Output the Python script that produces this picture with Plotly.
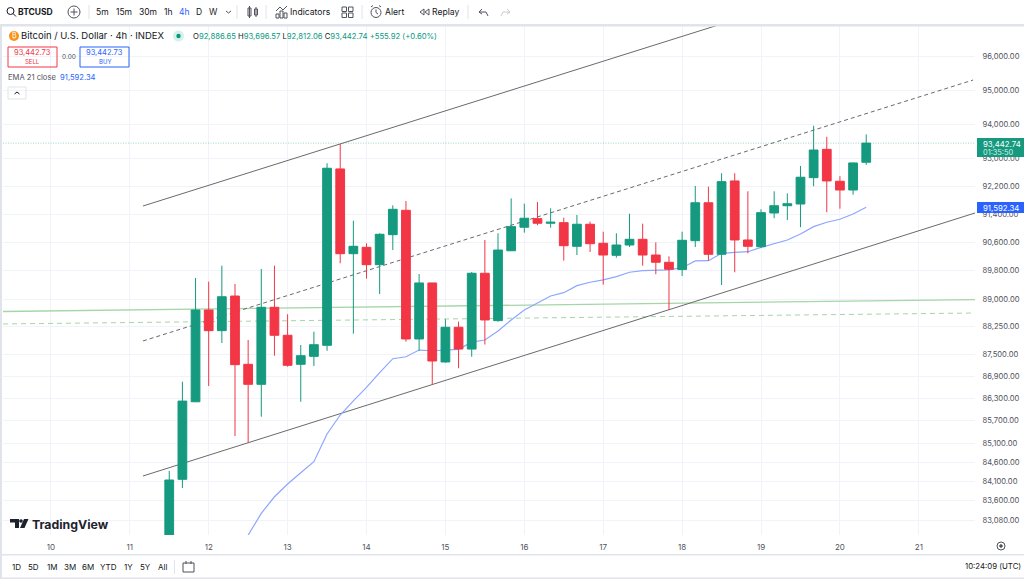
import plotly.graph_objects as go
import pandas as pd
import numpy as np

# 4h candles, prices
candle_start = "2024-11-11 12:00"
open_px = [82400, 84153, 86210, 88710, 88141, 89097, 87222, 86680, 88784, 88014, 87222, 87439, 87739, 92694,
           90279, 90459, 89971, 90816, 91508, 87913, 89460, 87285, 88234, 87637, 89731, 88416, 90362, 91026,
           91270, 91139, 91156, 90487, 91111, 90572, 90234, 90524, 90685, 90242, 90038, 89834, 90646, 91723,
           90262, 92348, 90666, 90476, 91431, 91638, 91687, 92443, 93262, 92339, 92088, 92886.65]
high_px = [84371, 86751, 89600, 89496, 89943, 89432, 87885, 89851, 89943, 88592, 87747, 88113, 92858, 93418,
           91213, 90572, 90856, 91650, 91772, 89711, 89460, 88454, 88388, 89767, 90666, 90856, 91848, 91695,
           91743, 91565, 91298, 91375, 91185, 90899, 90856, 91411, 91128, 90600, 90206, 90899, 92204, 92184,
           92570, 92570, 92051, 91536, 92051, 91993, 92781, 93950, 93626, 92484, 92876, 93696.57]
low_px = [82200, 83925, 86200, 86634, 87802, 85295, 85117, 85810, 87456, 87157, 86210, 87176, 87591, 90010,
          88058, 89580, 89153, 90382, 87839, 87591, 86662, 87266, 87114, 87428, 87761, 88388, 90354, 90873,
          91082, 91014, 90083, 90242, 90326, 89412, 90167, 90467, 89943, 89704, 88710, 89655, 90467, 90083,
          89404, 89759, 90290, 90439, 91281, 91233, 91026, 92195, 91451, 91553, 91954, 92812.06]
close_px = [84135, 86228, 88710, 88141, 89077, 87212, 86680, 88784, 88014, 87195, 87456, 87756, 92714, 90279,
            90487, 89971, 90827, 91536, 87913, 89460, 87312, 88234, 87637, 89731, 88435, 90382, 91043, 91281,
            91139, 91168, 90504, 91111, 90561, 90242, 90524, 90685, 90242, 90038, 89843, 90657, 91723, 90262,
            92328, 90666, 90487, 91440, 91638, 91695, 92455, 93242, 92348, 92088, 92867, 93442.74]

# EMA 21 comes into view at the 7th visible candle
ema_start = "2024-11-12 12:00"
ema_vals = [82706, 83266, 83697, 84030, 84326, 84615, 85349, 85855, 86236, 86599, 86995, 87374, 87428, 87610,
            87591, 87610, 87629, 87827, 87885, 88133, 88435, 88710, 88894, 89097, 89189, 89385, 89480, 89544,
            89636, 89759, 89804, 89823, 89823, 89887, 90075, 90083, 90290, 90318, 90335, 90459, 90572, 90666,
            90836, 91043, 91168, 91253, 91403, 91592.34]

# drawn lines on the chart
channel_upper_x, channel_upper_y = ["2024-11-11 04:00", "2024-11-18 11:00"], [91630, 96944]
channel_mid_x, channel_mid_y = ["2024-11-11 04:00", "2024-11-21 16:30"], [87858, 95297]
channel_low_x, channel_low_y = ["2024-11-11 04:00", "2024-11-21 17:05"], [84240, 91431]
view_x = ["2024-11-09 09:26", "2024-11-21 17:05"]
view_y = [82706, 96914]
green_solid = [88669, 88999]
green_dash = [88325, 88627]
last_price = 93442.74

price_ticks = [96000, 95000, 94000, 93000, 92200, 91400, 90600, 89800, 89000, 88250, 87500, 86900, 86300, 85700,
               85100, 84600, 84100, 83600, 83080]
day_ticks = list(range(10, 22))
intervals = ["5m", "15m", "30m", "1h", "4h", "D", "W"]
ranges = ["1D", "5D", "1M", "3M", "6M", "YTD", "1Y", "5Y", "All"]

W, H = 1024, 579
L, R, T, B = 3, 975, 26, 535
FONT = "Inter"
TEXT = "#131722"
MUTED = "#50535e"
GREEN = "#089981"
RED = "#f23645"
BLUE = "#2962ff"
BAND = "#e0e3eb"


def px(x, y):
    return (x - L) / (R - L), (B - y) / (B - T)


def path_of(points, close=False):
    parts = []
    for i, (x, y) in enumerate(points):
        a, b = px(x, y)
        parts.append(f"{'M' if i == 0 else 'L'}{a:.5f},{b:.5f}")
    return " ".join(parts) + (" Z" if close else "")


annotations = []
shapes = []


def note(x, y, text, size=9.5, color=TEXT, anchor="left"):
    a, b = px(x, y)
    annotations.append(dict(x=a, y=b, xref="paper", yref="paper", text=text, showarrow=False, xanchor=anchor,
                            yanchor="middle", font=dict(size=size, color=color, family=FONT),
                            borderpad=0, borderwidth=0))


def poly(points, color=MUTED, width=1, fill=None, close=False):
    shapes.append(dict(type="path", xref="paper", yref="paper", path=path_of(points, close or fill is not None),
                       line=dict(color=color, width=width), fillcolor=fill, layer="above"))


def box(x0, y0, x1, y1, color=MUTED, width=1, fill=None):
    a0, b0 = px(x0, y0)
    a1, b1 = px(x1, y1)
    shapes.append(dict(type="rect", xref="paper", yref="paper", x0=a0, y0=b0, x1=a1, y1=b1,
                       line=dict(color=color, width=width), fillcolor=fill, layer="above"))


def circle(x, y, r, color=MUTED, width=1, fill=None):
    a0, b0 = px(x - r, y + r)
    a1, b1 = px(x + r, y - r)
    shapes.append(dict(type="circle", xref="paper", yref="paper", x0=a0, y0=b0, x1=a1, y1=b1,
                       line=dict(color=color, width=width), fillcolor=fill, layer="above"))


# frame bands
box(0, 24, W, 26.5, color=BAND, width=0, fill=BAND)
box(0, 554, W, 555.5, color=BAND, width=0, fill=BAND)
box(0, 577.5, W, 579, color=BAND, width=0, fill=BAND)
box(0, 24, 2, 579, color=BAND, width=0, fill=BAND)

# top toolbar
circle(10.5, 11, 3.5, color=TEXT)
poly([(13, 13.5), (16, 16.5)], color=TEXT)
note(18, 12, "<b>BTCUSD</b>", size=8.5)
circle(74, 12, 6)
poly([(74, 8.5), (74, 15.5)])
poly([(70.5, 12), (77.5, 12)])
for sep in [89, 237, 266, 362, 468]:
    poly([(sep, 5), (sep, 19)], color=BAND)
for label, cx in zip(intervals, [102, 124, 148, 168, 184, 199, 213]):
    note(cx, 12, label, size=8.5, color=BLUE if label == "4h" else TEXT, anchor="center")
poly([(226, 11), (228.5, 13), (231, 11)])
box(248, 8, 251, 16)
poly([(249.5, 6), (249.5, 18)])
box(254.5, 9, 257.5, 15)
poly([(256, 7), (256, 17)])
poly([(276, 11), (280, 7), (283, 10), (287, 6)])
for bx, top in [(276, 14), (280, 11), (284, 13)]:
    box(bx, top, bx + 3, 18)
note(290, 12, "Indicators", size=8.6)
for gx, gy in [(342, 7), (348.5, 7), (342, 13), (348.5, 13)]:
    box(gx, gy, gx + 4.5, gy + 4.5)
circle(376, 12.5, 5)
poly([(371, 7), (373, 5.5)])
poly([(381, 7), (379, 5.5)])
poly([(376, 9.5), (376, 12.5), (378, 14)])
note(385, 12, "Alert", size=8.6)
poly([(424, 9), (420, 12), (424, 15)], close=True)
poly([(429, 9), (425, 12), (429, 15)], close=True)
note(432, 12, "Replay", size=8.6)
poly([(482, 9), (479, 12), (482, 14)])
poly([(479, 12), (486, 12), (488, 16)])
poly([(507, 9), (510, 12), (507, 14)], color="#c9cbd1")
poly([(510, 12), (503, 12), (501, 16)], color="#c9cbd1")

# legend block
circle(14, 36, 5, color="#f7931a", width=0, fill="#f7931a")
note(14, 36, "₿", size=7, color="#ffffff", anchor="center")
note(21, 36, "Bitcoin / U.S. Dollar · 4h · INDEX", size=9.5)
circle(178.5, 36, 5.5, color="#d6f0ea", width=0, fill="#d6f0ea")
circle(178.5, 36, 2.2, color=GREEN, width=0, fill=GREEN)


def ohlc_text(letter, value):
    return f"{letter}<span style='color:{GREEN}'>{value}</span>"


note(193, 36.5, " ".join([ohlc_text("O", f"{open_px[-1]:,.2f}"), ohlc_text("H", f"{high_px[-1]:,.2f}"),
                          ohlc_text("L", f"{low_px[-1]:,.2f}"), ohlc_text("C", f"{close_px[-1]:,.2f}"),
                          f"<span style='color:{GREEN}'>+555.92 (+0.60%)</span>"]), size=7.7)
box(8, 47, 57, 67, color=RED)
note(32.5, 52.5, "93,442.73", size=7.5, color=RED, anchor="center")
note(32.5, 61.5, "SELL", size=6, color=RED, anchor="center")
note(69, 56.5, "0.00", size=6.5, color=MUTED, anchor="center")
box(80, 47, 129, 67, color=BLUE)
note(104.5, 52.5, "93,442.73", size=7.5, color=BLUE, anchor="center")
note(104.5, 61.5, "BUY", size=6, color=BLUE, anchor="center")
note(8, 77.5, f"EMA 21 close  <span style='color:{BLUE}'>91,592.34</span>", size=7.6, color=MUTED)
box(8, 87, 26, 99, color=BAND)
poly([(14.5, 94), (17, 92), (19.5, 94)], color=TEXT)

# last price and EMA tags on the price scale
box(977, 138, 1024, 157, color="#159a7f", width=0, fill="#159a7f")
note(983, 144, "93,442.74", size=7.8, color="#ffffff")
note(983, 152, "01:35:50", size=7.4, color="#d5efe9")
box(977, 202, 1024, 213, color=BLUE, width=0, fill=BLUE)
note(983, 207.5, "91,592.34", size=7.8, color="#ffffff")

# watermark
poly([(10, 519), (19, 519), (19, 528), (15, 528), (15, 522.5), (10, 522.5)], color="#1e222d", width=0, fill="#1e222d")
circle(21, 521, 1.8, color="#1e222d", width=0, fill="#1e222d")
poly([(24, 519), (28.5, 519), (24.5, 528), (20, 528)], color="#1e222d", width=0, fill="#1e222d")
note(32, 524, "<b>TradingView</b>", size=12.3, color="#1e222d")

# bottom bar
for label, cx in zip(ranges, [16, 33, 52, 70, 88, 108, 128, 145, 162]):
    note(cx, 567, label, size=8, color=TEXT, anchor="center")
poly([(174.5, 560), (174.5, 574)], color=BAND)
box(183, 563, 194, 572)
poly([(186, 561), (186, 564)])
poly([(191, 561), (191, 564)])
note(1021, 566, "10:24:09 (UTC)", size=7.8, color=TEXT, anchor="right")
circle(1001, 546, 4)
circle(1001, 546, 1.3, color=MUTED, fill=MUTED)

fig = go.Figure()
candle_x = pd.date_range(candle_start, periods=len(close_px), freq="4h")
ema_x = pd.date_range(ema_start, periods=len(ema_vals), freq="4h")


def add_line(x, y, color, dash="solid", width=1):
    fig.add_trace(go.Scatter(x=x, y=y, mode="lines", line=dict(color=color, width=width, dash=dash),
                             hoverinfo="skip", showlegend=False, cliponaxis=True))


# everything on the main axes sits under the candles
add_line(view_x, green_solid, "#a5d6a7", width=1.3)
add_line(view_x, green_dash, "#a5d6a7", dash="5px,4px")
add_line(view_x, [last_price, last_price], "rgba(8,153,129,0.4)", dash="1px,1.5px")
add_line(channel_upper_x, channel_upper_y, "#6a6a6a")
add_line(channel_mid_x, channel_mid_y, "#6a6a6a", dash="4px,3px")
add_line(channel_low_x, channel_low_y, "#6a6a6a")
add_line(ema_x, ema_vals, "#8da6ff", width=1.2)

fig.add_trace(go.Candlestick(
    x=candle_x, open=open_px, high=high_px, low=low_px, close=close_px,
    xaxis="x2", yaxis="y2", whiskerwidth=0, showlegend=False,
    increasing=dict(line=dict(color="#159a7f", width=1), fillcolor="#159a7f"),
    decreasing=dict(line=dict(color=RED, width=1), fillcolor=RED),
))

y_range = [float(np.log10(view_y[0])), float(np.log10(view_y[1]))]
day_dates = [f"2024-11-{d:02d}" for d in day_ticks]
fig.update_layout(
    width=W, height=H,
    margin=dict(l=L, r=W - R, t=T, b=H - B),
    paper_bgcolor="#ffffff", plot_bgcolor="#ffffff",
    showlegend=False, hovermode="closest", boxgap=0.05,
    font=dict(family=FONT, size=9, color=MUTED),
    xaxis=dict(range=view_x, type="date", tickvals=day_dates, ticktext=[str(d) for d in day_ticks],
               showgrid=True, gridcolor="#f0f3fa", gridwidth=1, zeroline=False, showline=False,
               ticks="outside", ticklen=4, tickcolor="rgba(0,0,0,0)", tickfont=dict(size=8, color=MUTED)),
    yaxis=dict(range=y_range, type="log", side="right", tickmode="array", tickvals=price_ticks,
               ticktext=[f"{v:,.2f}" for v in price_ticks], showgrid=True, gridcolor="#f0f3fa", gridwidth=1,
               zeroline=False, showline=False, ticks="outside", ticklen=5, tickcolor="rgba(0,0,0,0)",
               tickfont=dict(size=7.6, color=MUTED)),
    xaxis2=dict(range=view_x, type="date", overlaying="x", visible=False, rangeslider=dict(visible=False)),
    yaxis2=dict(range=y_range, type="log", overlaying="y", side="right", visible=False),
    annotations=annotations,
    shapes=shapes,
)

fig.write_html("out.html", config=dict(displayModeBar=False),
               post_script="document.body.style.margin='0';document.body.style.overflow='hidden';")
